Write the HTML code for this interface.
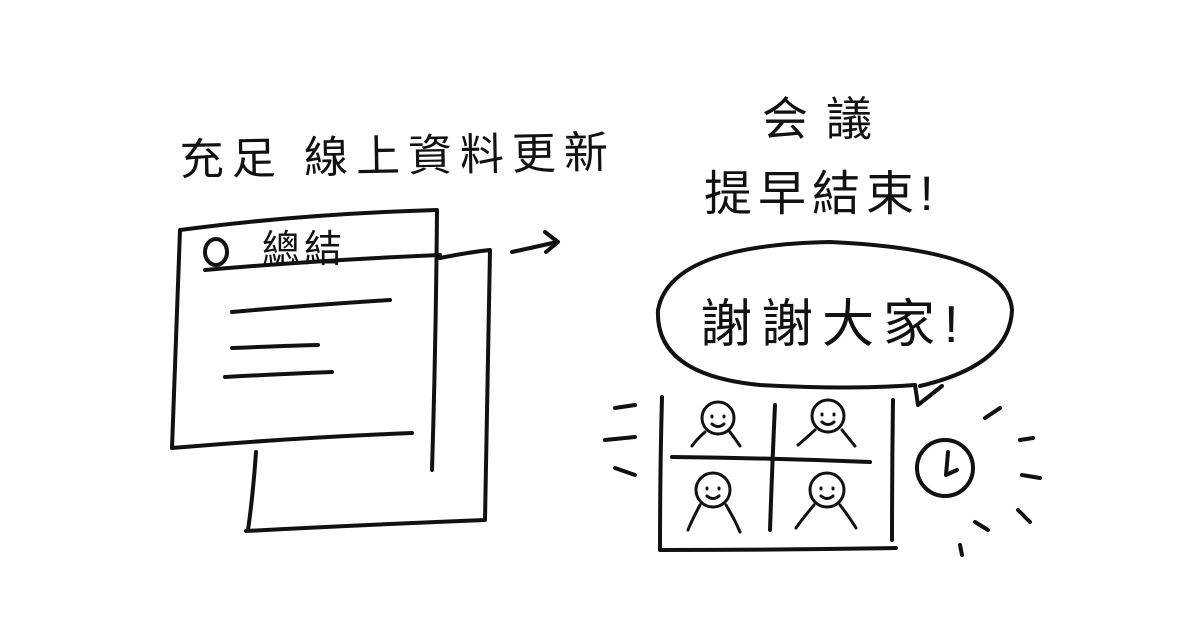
<!DOCTYPE html>
<html><head><meta charset="utf-8"><style>
html,body{margin:0;padding:0;background:#fff;}
svg{display:block}
text{font-family:"Liberation Sans","Noto Sans CJK TC",sans-serif;fill:#111;}
</style></head><body>
<svg width="1200" height="630" viewBox="0 0 1200 630" xmlns="http://www.w3.org/2000/svg">
<rect width="1200" height="630" fill="#fff"/>
<g stroke="#111" stroke-width="4" fill="none" stroke-linecap="round" stroke-linejoin="round">
<path d="M440 258 Q470 252 490 250 Q488 390 485 520 Q360 525 246 531"/>
<path d="M256 452 Q253 495 248 530"/>
<path d="M180 230 Q300 214 437 210 Q436 340 432 470"/>
<path d="M180 230 Q176 340 172 448 Q290 438 412 433"/>
<path d="M205 270 Q320 260 440 255"/>
<path d="M232 312 Q310 305 390 300"/>
<path d="M232 348 Q280 346 318 345"/>
<path d="M225 377 Q280 374 332 372"/>
<ellipse cx="216" cy="252" rx="11" ry="13"/>
<path d="M512 252 Q535 247 557 242"/>
<path d="M545 232 L558 242 L546 252"/>
<path d="M920 386 Q1010 365 1012 310 Q1008 250 830 242 Q670 245 658 310 Q655 375 760 385 Q850 390 915 385"/>
<path d="M915 385 L918 405 L942 386"/>
<path d="M662 397 Q660 470 660 550 Q780 550 896 548"/>
<path d="M893 400 Q892 470 892 540"/>
<path d="M672 457 Q770 458 870 462"/>
<path d="M775 405 Q772 470 770 530"/>
<g stroke-width="3">
<circle cx="718" cy="418" r="16"/><path d="M712 416v1M724 416v1M712 424q6 5 12 0M705 432 Q696 440 692 446M730 432 Q736 440 740 446"/>
<circle cx="828" cy="416" r="16"/><path d="M822 414v1M834 414v1M822 422q6 5 12 0M815 430 Q804 440 798 445M842 430 Q850 440 855 446"/>
<circle cx="713" cy="490" r="17"/><path d="M707 488v1M719 488v1M707 496q6 5 12 0M700 505 Q692 520 688 530M726 505 Q735 520 740 532"/>
<circle cx="827" cy="490" r="17"/><path d="M821 488v1M833 488v1M821 496q6 5 12 0M814 505 Q803 518 796 528M840 505 Q850 518 856 528"/>
</g>
<path d="M615 408 L635 405M605 440 L635 437M615 468 L635 475"/>
<circle cx="945" cy="468" r="28"/>
<path d="M948 452 L946 475 L957 470"/>
<path d="M985 418 L1000 408M1020 440 L1033 438M1022 475 L1040 478M1018 510 L1030 522M975 522 L988 530M960 545 L962 555"/>
</g>
<text x="180" y="175" font-size="44" transform="rotate(-1 180 175)" letter-spacing="8">充足 線上資料更新</text>
<text x="262" y="262" font-size="38" letter-spacing="4">總結</text>
<text x="762" y="135" font-size="46" letter-spacing="18">会議</text>
<text x="704" y="210" font-size="48" letter-spacing="6">提早結束!</text>
<text x="700" y="342" font-size="52" letter-spacing="9">謝謝大家!</text>
</svg>
</body></html>
